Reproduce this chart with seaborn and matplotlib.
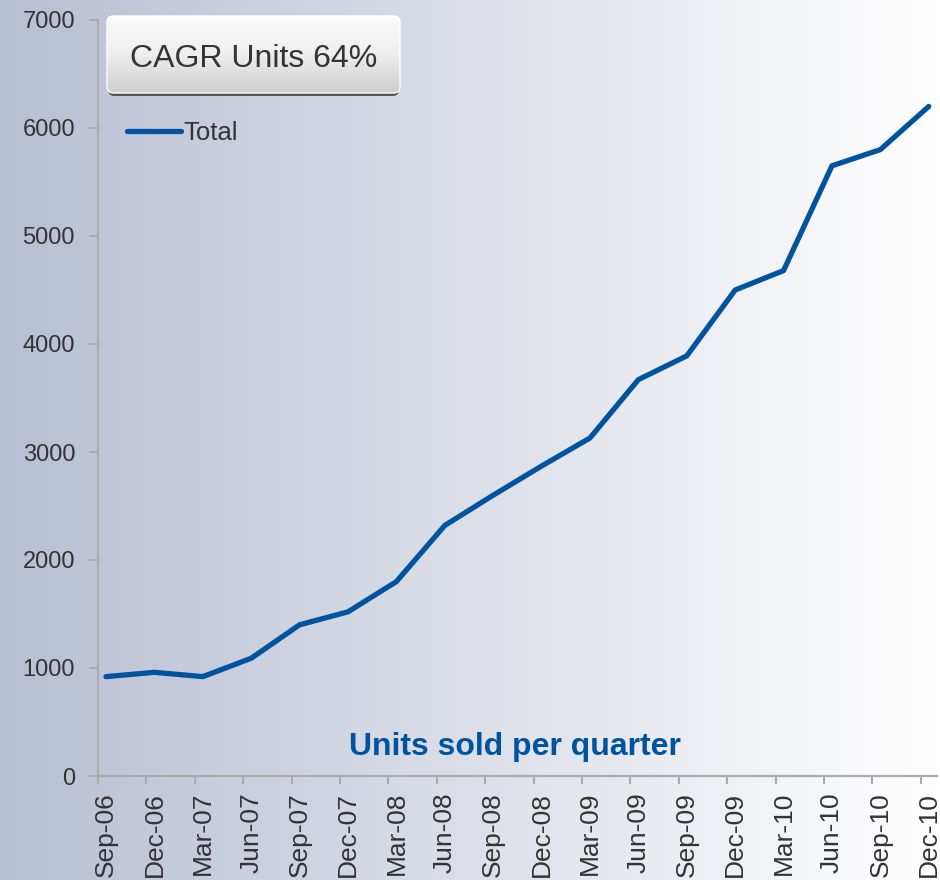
import numpy as np
import pandas as pd
import matplotlib
matplotlib.use("Agg")
import matplotlib.pyplot as plt
import seaborn as sns
from matplotlib.patches import FancyBboxPatch
from matplotlib.colors import LinearSegmentedColormap

# ---- data ----
quarters = ["Sep-06", "Dec-06", "Mar-07", "Jun-07", "Sep-07", "Dec-07",
            "Mar-08", "Jun-08", "Sep-08", "Dec-08", "Mar-09", "Jun-09",
            "Sep-09", "Dec-09", "Mar-10", "Jun-10", "Sep-10", "Dec-10"]
units = [920, 960, 920, 1090, 1400, 1520, 1800, 2320, 2600, 2870,
         3130, 3670, 3890, 4500, 4680, 5650, 5800, 6200]
y_ticks = [0, 1000, 2000, 3000, 4000, 5000, 6000, 7000]
series_name = "Total"
box_text = "CAGR Units 64%"
caption = "Units sold per quarter"

BLUE = "#00539f"
GRAY = "#ababab"
TXT = "#333333"

sns.set_theme(style="white")
plt.rcParams["font.family"] = ["Liberation Sans", "DejaVu Sans"]

W, H = 940, 880
fig = plt.figure(figsize=(W / 100, H / 100), dpi=100)

# background gradient (figure-wide)
bg = fig.add_axes([0, 0, 1, 1], zorder=-10)
bg.set_xlim(0, 1)
bg.set_ylim(0, 1)
grad = np.linspace(0, 1, 512).reshape(1, -1)
cmap = LinearSegmentedColormap.from_list("bg", ["#b8bfd3", "#dcdfe8", "#ffffff"])
bg.imshow(grad, aspect="auto", cmap=cmap, extent=[0, 1, 0, 1], zorder=0)
bg.axis("off")

# CAGR box with shadow and vertical gradient
bx0, bx1, by0, by1 = 107 / W, 400 / W, 1 - 93 / H, 1 - 16 / H
shadow = FancyBboxPatch((bx0 + 1 / W, by0 - 3 / H), bx1 - bx0 - 2 / W, by1 - by0,
                        boxstyle="round,pad=0,rounding_size=0.007",
                        facecolor="#555555", edgecolor="none", zorder=1)
bg.add_patch(shadow)
box = FancyBboxPatch((bx0, by0), bx1 - bx0, by1 - by0,
                     boxstyle="round,pad=0,rounding_size=0.007",
                     facecolor="none", edgecolor="#ffffff", lw=1.0, zorder=3)
bg.add_patch(box)
vgrad = np.linspace(0, 1, 256).reshape(-1, 1)
bcmap = LinearSegmentedColormap.from_list("box", ["#fbfbfb", "#eeeeee", "#cdcdcd"])
im = bg.imshow(vgrad, aspect="auto", cmap=bcmap,
               extent=[bx0, bx1, by0, by1], origin="upper", zorder=2)
im.set_clip_path(box)
bg.set_xlim(0, 1)
bg.set_ylim(0, 1)
fig.text((107 + 400) / 2 / W, 1 - 67 / H, box_text, ha="center", va="baseline",
         fontsize=23, color=TXT)

# main axes
ax = fig.add_axes([98 / W, 104 / H, (937 - 98) / W, (776 - 20) / H])
ax.patch.set_alpha(0)
df = pd.DataFrame({"pos": np.arange(len(quarters)), "Units": units})
sns.lineplot(data=df, x="pos", y="Units", ax=ax, color=BLUE, linewidth=3.8,
             label=series_name)

ax.set_xlim(-0.165, len(quarters) - 1 + 0.17)
ax.set_ylim(0, 7000)
ax.set_yticks(y_ticks)
ax.set_yticklabels([str(v) for v in y_ticks], fontsize=17, color=TXT)
ax.set_xticks(np.arange(len(quarters)))
ax.set_xticklabels(quarters, rotation=90, fontsize=19, color=TXT, va="top")
ax.set_xticks(np.arange(len(quarters)) - 0.165, minor=True)
ax.tick_params(axis="x", which="major", length=0, pad=11.5)
ax.tick_params(axis="x", which="minor", length=6, width=1.5, color=GRAY,
               direction="out", bottom=True)
ax.tick_params(axis="y", which="major", length=6.5, width=1.5, color=GRAY,
               direction="out", pad=10, left=True)
ax.set_xlabel("")
ax.set_ylabel("")
sns.despine(ax=ax)
for s in ["left", "bottom"]:
    ax.spines[s].set_color(GRAY)
    ax.spines[s].set_linewidth(1.6)

leg = ax.legend(loc="center left", bbox_to_anchor=(127 / W, 1 - 133 / H),
                bbox_transform=fig.transFigure, frameon=False, fontsize=18.5,
                handlelength=2.1, handletextpad=0.1, borderpad=0,
                borderaxespad=0)
for t in leg.get_texts():
    t.set_color(TXT)

ax.text((515 - 98) / (937 - 98), (776 - 755) / (776 - 20), caption,
        transform=ax.transAxes, ha="center", va="baseline", fontsize=23,
        fontweight="bold", color=BLUE)

fig.savefig("out.png", dpi=100)
